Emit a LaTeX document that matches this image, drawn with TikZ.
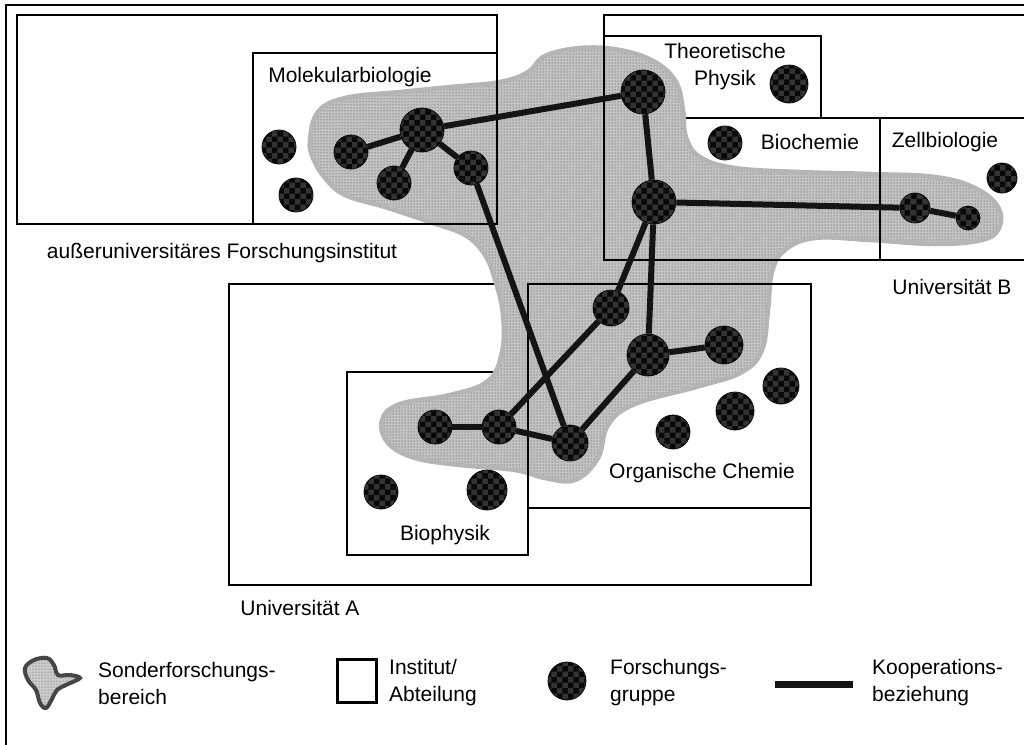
\documentclass[tikz,border=0pt]{standalone}
\usepackage{fontspec}
\setmainfont{Liberation Sans}
\usetikzlibrary{patterns}
\begin{document}
\begin{tikzpicture}[x=1pt,y=-1pt,
  box/.style={line width=2.8pt, line join=miter, line cap=rect},
  grp/.style={circle, preaction={fill=black!80}, pattern=checkerboard, pattern color=black!97, draw=black!95, line width=0.8pt, inner sep=0pt},
  coop/.style={line width=6pt, black!92},
  lbl/.style={font=\fontsize{21}{27}\selectfont, inner sep=0pt, align=center},
  leg/.style={font=\fontsize{21}{27}\selectfont, inner sep=0pt, align=left, anchor=west},
  sfb/.style={preaction={fill=gray!48}, pattern=dots, pattern color=black!75, draw=gray!58, line width=4.5pt}
]
\useasboundingbox (0,0) rectangle (1024,744);
\fill[white] (0,0) rectangle (1024,744);
% outer frame (left and top only)
\draw[box] (6,744) -- (6,5) -- (1024,5);

% boxes hidden under the blob
\draw[box] (229,284) rectangle (811,585);           % Universitaet A
\draw[box] (347,372) rectangle (528,555);           % Biophysik
\draw[box] (604,36) -- (821,36) -- (821,118) -- (604,118); % Theoretische Physik
\draw[box] (821,118) -- (1024,118);                 % Biochemie / Zellbiologie top

% Sonderforschungsbereich
\path[sfb] plot[smooth cycle, tension=0.65] coordinates {
 (310,140) (318,112) (345,98) (400,92) (450,87) (500,82) (528,72) (545,56)
 (580,48) (620,50) (655,62) (676,82) (683,110) (686,137) (700,157) (735,168)
 (800,172) (870,174) (935,177) (975,188) (998,207) (999,228) (982,240) (935,244)
 (870,240) (815,238) (785,250) (772,272) (768,310) (762,350) (742,372) (700,386)
 (635,404) (608,425) (598,458) (575,480) (545,478) (515,470) (460,465) (415,458)
 (388,443) (382,420) (400,404) (450,395) (488,381) (502,352) (503,315) (496,283)
 (485,255) (465,235) (430,222) (385,207) (345,195) (325,178) (313,158)};

% boxes visible through the blob
\draw[box] (17,15) rectangle (497,224);             % Forschungsinstitut
\draw[box] (253,224) -- (253,53) -- (497,53);       % Molekularbiologie
\draw[box] (1024,15) -- (604,15) -- (604,260) -- (1024,260); % Universitaet B
\draw[box] (880,118) -- (880,260);                  % Zellbiologie divider
\draw[box] (528,555) -- (528,284) -- (811,284);     % Organische Chemie
\draw[box] (528,508) -- (811,508);

% Forschungsgruppen in the SFB
\node[grp, minimum size=34pt] (m1) at (351,152) {};
\node[grp, minimum size=44pt] (m2) at (422,130) {};
\node[grp, minimum size=34pt] (m3) at (394,183) {};
\node[grp, minimum size=34pt] (m4) at (471,168) {};
\node[grp, minimum size=44pt] (t1) at (643,92) {};
\node[grp, minimum size=44pt] (b1) at (654,202) {};
\node[grp, minimum size=30pt] (z1) at (915,208) {};
\node[grp, minimum size=24pt] (z2) at (968,218) {};
\node[grp, minimum size=36pt] (o1) at (611,308) {};
\node[grp, minimum size=42pt] (o2) at (648,355) {};
\node[grp, minimum size=38pt] (o3) at (724,345) {};
\node[grp, minimum size=36pt] (o4) at (570,443) {};
\node[grp, minimum size=34pt] (p1) at (435,427) {};
\node[grp, minimum size=34pt] (p2) at (499,427) {};

% Kooperationsbeziehungen
\draw[coop] (m1) -- (m2);
\draw[coop] (m2) -- (m3);
\draw[coop] (m2) -- (m4);
\draw[coop] (m2) -- (t1);
\draw[coop] (t1) -- (b1);
\draw[coop] (b1) -- (z1);
\draw[coop] (z1) -- (z2);
\draw[coop] (m4) -- (o4);
\draw[coop] (b1) -- (o1);
\draw[coop] (b1) -- (o2);
\draw[coop] (o1) -- (p2);
\draw[coop] (o2) -- (o3);
\draw[coop] (o2) -- (o4);
\draw[coop] (p1) -- (p2);
\draw[coop] (p2) -- (o4);

% other Forschungsgruppen
\node[grp, minimum size=34pt] (x1) at (279,147) {};
\node[grp, minimum size=34pt] (x2) at (296,195) {};
\node[grp, minimum size=38pt] (x3) at (789,84) {};
\node[grp, minimum size=34pt] (x4) at (725,143) {};
\node[grp, minimum size=30pt] (x5) at (1002,178) {};
\node[grp, minimum size=34pt] (x6) at (381,492) {};
\node[grp, minimum size=40pt] (x7) at (487,490) {};
\node[grp, minimum size=34pt] (x8) at (673,432) {};
\node[grp, minimum size=38pt] (x9) at (735,411) {};
\node[grp, minimum size=36pt] (x10) at (781,386) {};

% labels
\node[lbl] (lmol) at (350,77) {Molekularbiologie};
\node[lbl] (lfi) at (222,253) {außeruniversitäres Forschungsinstitut};
\node[lbl] (ltp) at (725,67) {Theoretische\\Physik};
\node[lbl] (lbc) at (810,142) {Biochemie};
\node[lbl] (lzb) at (945,142) {Zellbiologie};
\node[lbl] (lub) at (952,287) {Universität B};
\node[lbl] (loc) at (702,473) {Organische Chemie};
\node[lbl] (lbp) at (445,535) {Biophysik};
\node[lbl] (lua) at (300,608) {Universität A};

% legend
\path[preaction={fill=gray!40}, pattern=dots, pattern color=gray!60!black, draw=gray!55!black, line width=4pt]
  plot[smooth cycle, tension=0.6] coordinates {
  (25,668) (34,660) (47,658) (54,665) (58,675) (70,675) (80,678) (68,684)
  (57,690) (52,699) (46,708) (40,703) (36,690) (28,680)};
\node[leg] (t1leg) at (98,683) {Sonderforschungs-\\bereich};
\node[draw, line width=2.8pt, minimum width=39pt, minimum height=43pt, inner sep=0pt] (sq) at (357,681) {};
\node[leg] (t2leg) at (389,683) {Institut/\\Abteilung};
\node[grp, minimum size=38pt] (cl) at (567,681) {};
\node[leg] (t3leg) at (610,683) {Forschungs-\\gruppe};
\coordinate (la) at (775,684);
\coordinate (lb) at (853,684);
\draw[coop, line width=7pt] (la) -- (lb);
\node[leg] (t4leg) at (872,683) {Kooperations-\\beziehung};
\end{tikzpicture}
\end{document}
